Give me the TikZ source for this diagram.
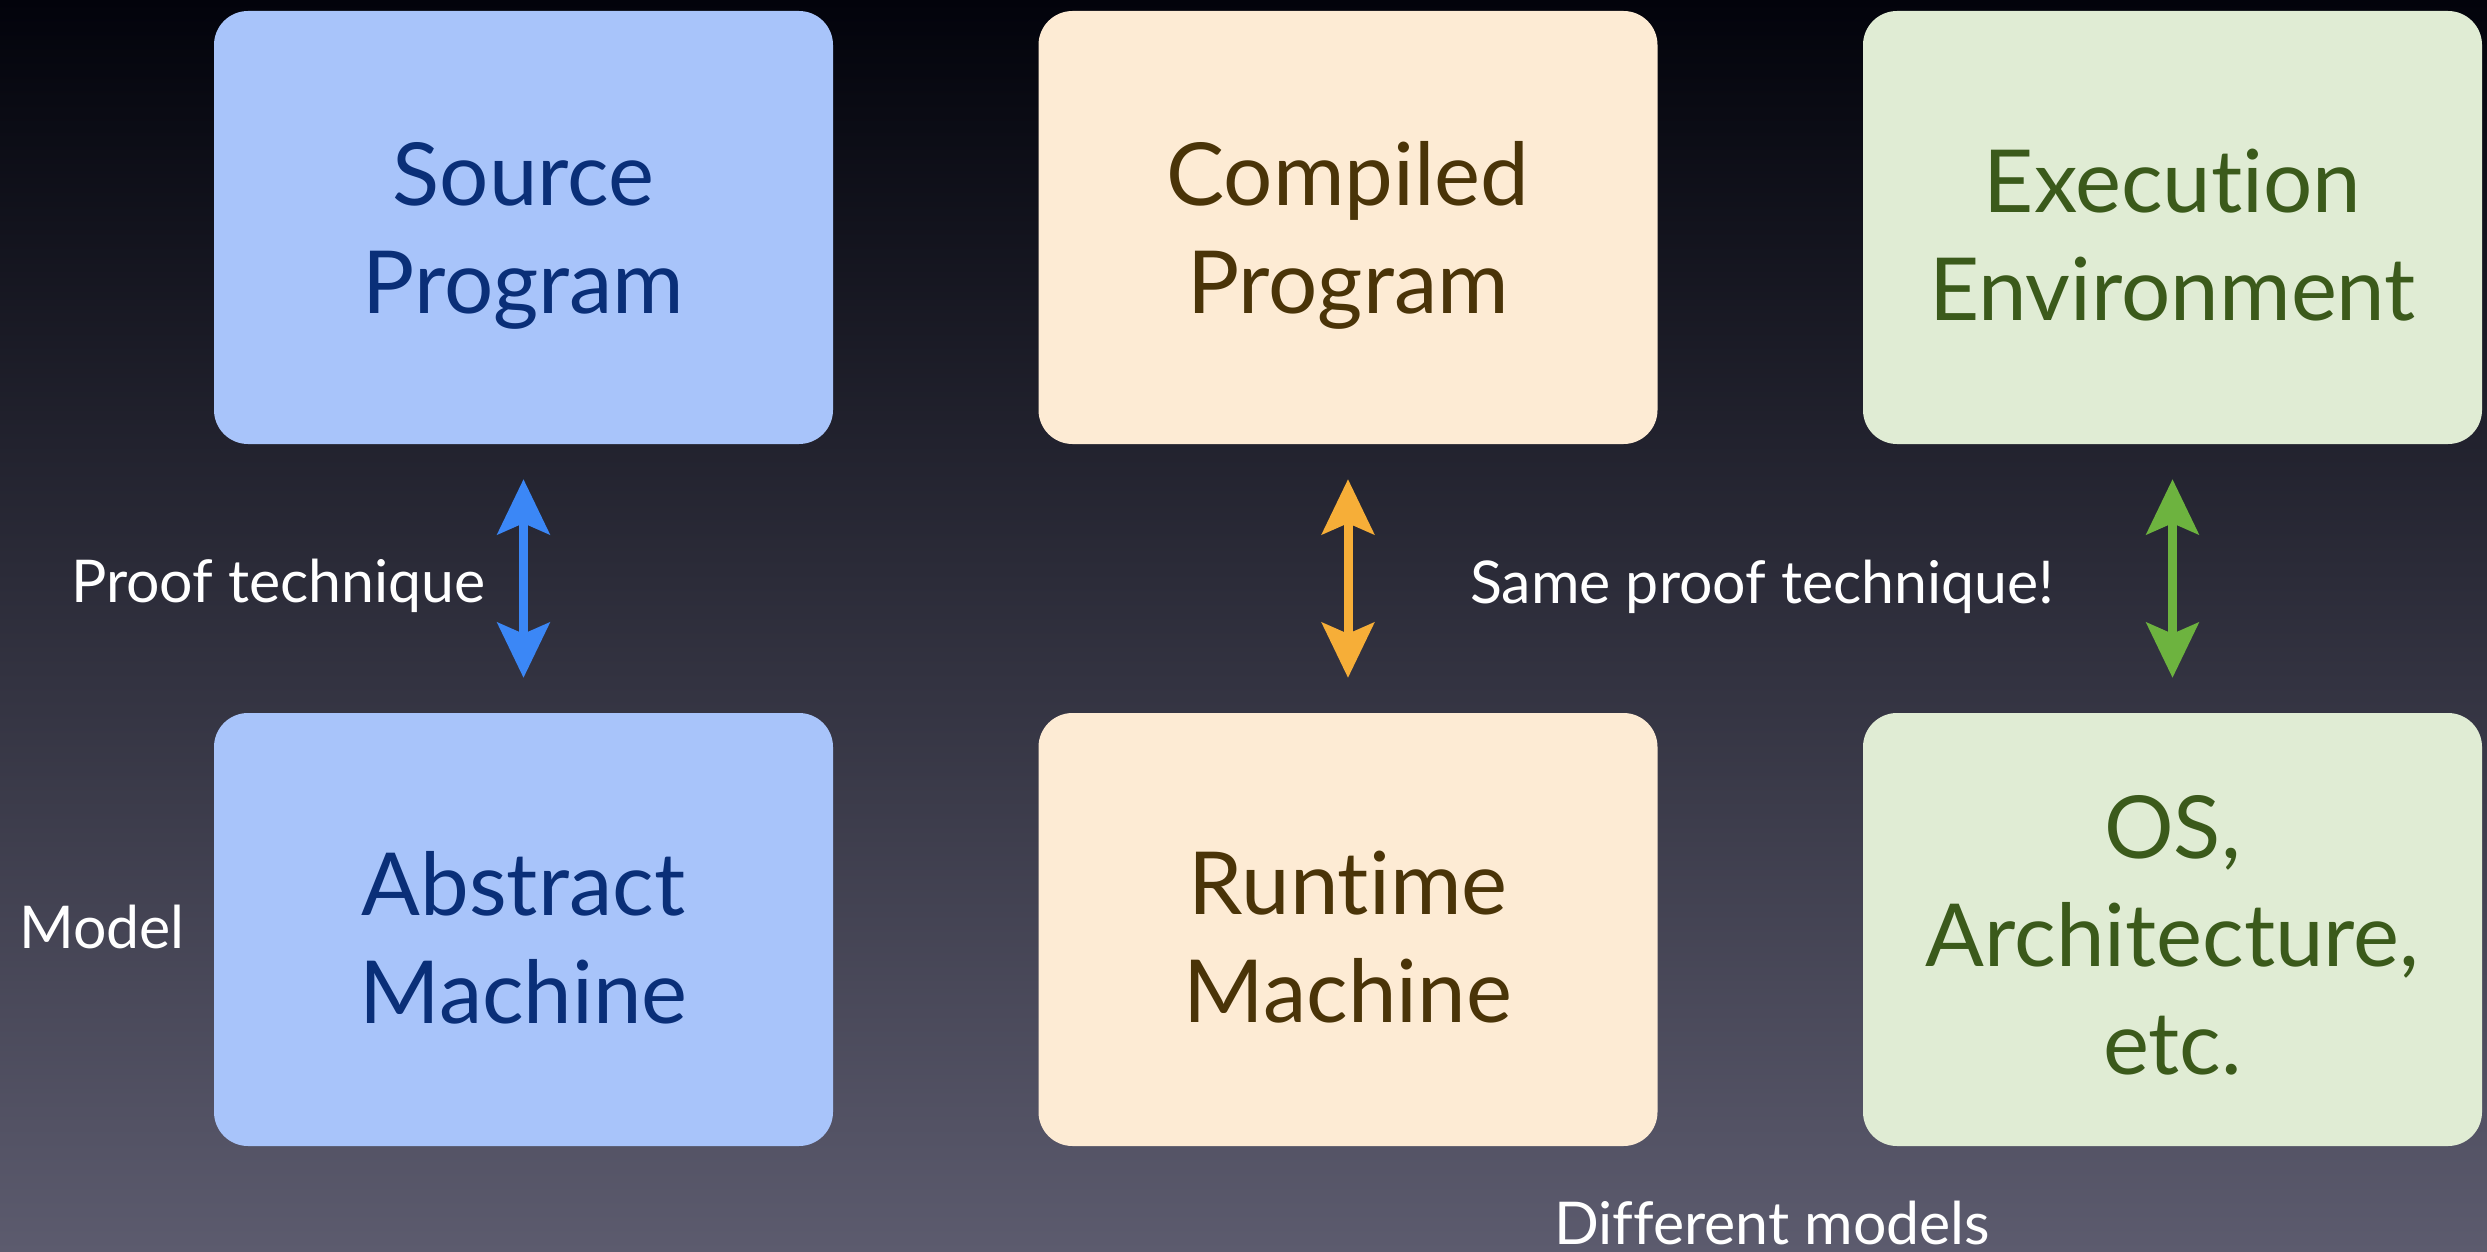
\documentclass[tikz,border=0pt]{standalone}
\usepackage{fontspec}
\setmainfont[Ligatures=NoCommon]{Lato}
\usetikzlibrary{arrows.meta}
\definecolor{bgtop}{HTML}{02030B}
\definecolor{bgbot}{HTML}{5C5B6E}
\definecolor{bluefill}{HTML}{A8C4FA}
\definecolor{bluetext}{HTML}{0A2F78}
\definecolor{bluearrow}{HTML}{3B87F6}
\definecolor{orangefill}{HTML}{FDEBD4}
\definecolor{orangetext}{HTML}{4A3408}
\definecolor{orangearrow}{HTML}{F6AE38}
\definecolor{greenfill}{HTML}{E0ECD4}
\definecolor{greentext}{HTML}{3B5A1B}
\definecolor{greenarrow}{HTML}{6DB33F}
\tikzset{
  card/.style={rounded corners=34pt, minimum width=619pt, minimum height=433pt,
    inner sep=0pt},
  caption/.style={inner sep=0pt, align=center, font=\fontsize{87}{108}\selectfont},
  bluecard/.style={card, fill=bluefill},
  orangecard/.style={card, fill=orangefill},
  greencard/.style={card, fill=greenfill},
  link/.style={line width=9pt, shorten <=35pt, shorten >=35pt,
    {Stealth[length=55pt,width=52pt,inset=11pt]}-{Stealth[length=55pt,width=52pt,inset=11pt]}},
  note/.style={text=white, inner sep=0pt, font=\fontsize{59}{68}\selectfont}
}
\begin{document}
\begin{tikzpicture}[x=1pt,y=-1pt]
  % backdrop
  \shade[top color=bgtop, bottom color=bgbot] (0,0) rectangle (2487,1252);
  \useasboundingbox (0,0) rectangle (2487,1252);

  % upper row
  \node[bluecard]   (src)  at (523.5,227.5)  {};
  \node[orangecard] (comp) at (1348,227.5)   {};
  \node[greencard]  (exec) at (2172.5,227.5) {};

  % lower row
  \node[bluecard]   (abs)  at (523.5,929.5)  {};
  \node[orangecard] (rt)   at (1348,929.5)   {};
  \node[greencard]  (os)   at (2172.5,929.5) {};

  % card captions
  \node[caption, text=bluetext]   (srcT)  at ([yshift=-8pt]src.center)  {Source\\Program};
  \node[caption, text=orangetext] (compT) at ([yshift=-8pt]comp.center) {Compiled\\Program};
  \node[caption, text=greentext]  (execT) at ([yshift=-8pt]exec.center) {Execution\\Environment};
  \node[caption, text=bluetext]   (absT)  at ([yshift=-8pt]abs.center)  {Abstract\\Machine};
  \node[caption, text=orangetext] (rtT)   at ([yshift=-8pt]rt.center)   {Runtime\\Machine};
  \node[caption, text=greentext]  (osT)   at ([yshift=-6pt]os.center)   {OS,\\Architecture,\\etc.};

  % correspondences
  \draw[link, color=bluearrow]   (src.south)  -- (abs.north);
  \draw[link, color=orangearrow] (comp.south) -- (rt.north);
  \draw[link, color=greenarrow]  (exec.south) -- (os.north);

  % annotations
  \node[note, anchor=base east] (pt)   at (486,602)   {Proof technique};
  \node[note, anchor=base west] (same) at (1470,603)  {Same proof technique!};
  \node[note, anchor=base west] (mdl)  at (19,948)    {Model};
  \node[note, anchor=base west] (diff) at (1554,1244) {Different models};
\end{tikzpicture}
\end{document}
